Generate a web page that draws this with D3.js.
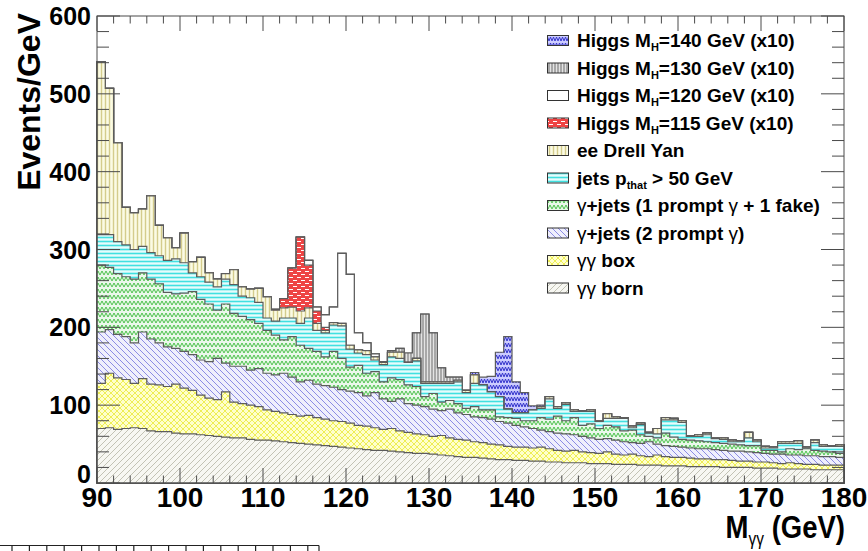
<!DOCTYPE html>
<html>
<head>
<meta charset="utf-8">
<script src="https://cdn.jsdelivr.net/npm/d3@7"></script>
<style>
  body { margin: 0; background: #fff; }
  svg { display: block; }
</style>
</head>
<body>
<svg id="chart" width="868" height="551"></svg>
<script>
// Diphoton invariant mass, stacked backgrounds plus Higgs signals (x10), 1 GeV bins from 90 to 180 GeV
const binLow = d3.range(90, 180);

const born = [70,71,69,70,71,70,67,66,66,64, 63,63,62,61,60,59,58,58,56,55,
  55,54,53,52,51,50,49,48,47,46, 45,44,43,42,42,41,40,39,38,38,
  37,36,35,34,33,33,32,31,30,30, 29,29,28,28,27,27,26,26,26,25,
  25,25,24,24,24,23,23,23,22,22, 22,21,21,21,21,20,20,20,20,19,
  19,19,18,18,18,18,17,17,17,17];
const box = [58,70,66,63,57,64,60,60,58,63, 59,56,51,48,47,58,46,44,44,43,
  39,38,37,36,35,37,35,34,33,33, 32,30,30,29,27,29,27,26,25,24,
  23,25,23,22,22,20,20,19,19,17, 17,17,17,18,17,15,15,16,14,14,
  13,15,13,12,13,12,11,13,12,11, 11,11,10,10,9,10,9,8,8,8,
  8,7,7,8,7,6,7,6,6,6];
const twoPrompt = [66,56,56,55,52,60,58,54,51,46, 47,46,45,47,53,37,46,48,45,49,
  47,47,51,48,44,45,43,43,43,41, 41,42,39,45,39,35,41,37,37,36,
  35,32,37,34,33,32,32,32,30,30, 28,26,25,22,22,22,22,20,20,19,
  18,17,18,17,15,16,19,14,14,14, 13,13,13,13,13,12,12,13,12,12,
  11,11,12,10,11,11,11,11,11,10];
const onePromptFake = [86,80,78,77,82,76,77,76,70,70, 75,81,78,74,62,76,68,64,65,58,
  55,51,43,52,47,41,42,37,46,40, 31,35,29,27,22,30,25,24,24,13,
  20,11,11,12,8,13,10,12,6,7, 9,8,10,16,16,22,17,22,14,18,
  14,17,17,14,16,11,7,8,16,12, 10,10,10,9,9,9,9,8,8,9,
  4,5,3,8,7,9,7,7,6,5];
const jets = [39,42,41,41,38,34,34,36,41,45, 39,24,29,28,30,32,37,26,28,27,
  16,18,28,24,28,39,27,31,34,42, 23,16,24,15,22,27,27,29,33,17,
  13,24,22,28,20,30,32,23,26,11, 7,10,14,12,26,10,21,8,18,16,
  9,9,11,16,3,13,4,5,17,22, 22,5,6,9,5,5,3,4,10,5,
  3,3,11,7,8,1,10,6,7,9];
const drellYan = [222,188,127,48,47,48,73,39,29,14, 38,14,25,12,10,7,19,12,11,18,
  27,14,13,14,16,13,9,3,3,3, 5,4,5,4,3,6,8,0,3,2,
  2,2,2,2,3,11,0,0,0,0, 0,0,0,2,3,2,2,2,1,2,
  1,6,2,1,2,2,1,7,3,2, 2,1,2,2,1,2,2,1,7,2,
  2,1,2,2,3,1,3,2,1,2];
const h115 = [0,0,0,0,0,0,0,0,0,0, 0,0,0,0,0,0,0,0,0,0,
  0,1,12,50,95,55,16,4,0,0, 0,0,0,0,0,0,0,0,0,0,
  0,0,0,0,0,0,0,0,0,0, 0,0,0,0,0,0,0,0,0,0,
  0,0,0,0,0,0,0,0,0,0, 0,0,0,0,0,0,0,0,0,0,
  0,0,0,0,0,0,0,0,0,0];
const h120 = [0,0,0,0,0,0,0,0,0,0, 0,0,0,0,0,0,0,0,0,0,
  0,0,0,0,0,6,5,16,20,90, 91,22,10,4,1,0,0,0,0,0,
  0,0,0,0,0,0,0,0,0,0, 0,0,0,0,0,0,0,0,0,0,
  0,0,0,0,0,0,0,0,0,0, 0,0,0,0,0,0,0,0,0,0,
  0,0,0,0,0,0,0,0,0,0];
const h130 = [0,0,0,0,0,0,0,0,0,0, 0,0,0,0,0,0,0,0,0,0,
  0,0,0,0,0,0,0,0,0,0, 0,0,0,0,0,2,5,12,33,87,
  63,18,6,4,0,0,0,0,0,0, 0,0,0,0,0,0,0,0,0,0,
  0,0,0,0,0,0,0,0,0,0, 0,0,0,0,0,0,0,0,0,0,
  0,0,0,0,0,0,0,0,0,0];
const h140 = [0,0,0,0,0,0,0,0,0,0, 0,0,0,0,0,0,0,0,0,0,
  0,0,0,0,0,0,0,0,0,0, 0,0,0,0,0,0,0,0,0,0,
  0,0,0,0,0,3,10,20,57,93, 40,26,5,2,0,0,0,0,0,0,
  0,0,0,0,0,0,0,0,0,0, 0,0,0,0,0,0,0,0,0,0,
  0,0,0,0,0,0,0,0,0,0];

const xTicks = [90,100,110,120,130,140,150,160,170,180];
const yTicks = [0,100,200,300,400,500,600];

// stack order, bottom to top
const layers = [
  {key: "born", values: born, fill: "p-born"},
  {key: "box", values: box, fill: "p-box"},
  {key: "twoPrompt", values: twoPrompt, fill: "p-two"},
  {key: "onePromptFake", values: onePromptFake, fill: "p-one"},
  {key: "jets", values: jets, fill: "p-jets"},
  {key: "drellYan", values: drellYan, fill: "p-dy"},
  {key: "h115", values: h115, fill: "p-h115"},
  {key: "h120", values: h120, fill: "p-h120"},
  {key: "h130", values: h130, fill: "p-h130"},
  {key: "h140", values: h140, fill: "p-h140"}
];

// legend, top to bottom
const legendItems = [
  {fill: "p-h140", parts: [["Higgs M"], ["H", "sub"], ["=140 GeV (x10)"]]},
  {fill: "p-h130", parts: [["Higgs M"], ["H", "sub"], ["=130 GeV (x10)"]]},
  {fill: "p-h120", parts: [["Higgs M"], ["H", "sub"], ["=120 GeV (x10)"]]},
  {fill: "p-h115", parts: [["Higgs M"], ["H", "sub"], ["=115 GeV (x10)"]]},
  {fill: "p-dy", parts: [["ee Drell Yan"]]},
  {fill: "p-jets", parts: [["jets p"], ["that", "sub"], [" > 50 GeV"]]},
  {fill: "p-one", parts: [["γ", "greek"], ["+jets (1 prompt "], ["γ", "greek"], [" + 1 fake)"]]},
  {fill: "p-two", parts: [["γ", "greek"], ["+jets (2 prompt "], ["γ", "greek"], [")"]]},
  {fill: "p-box", parts: [["γγ", "greek"], [" box"]]},
  {fill: "p-born", parts: [["γγ", "greek"], [" born"]]}
];

const svg = d3.select("#chart");
const FONT = "'Liberation Sans', Arial, Helvetica, sans-serif";

const x = d3.scaleLinear().domain([90, 180]).range([97, 844]);
const y = d3.scaleLinear().domain([0, 600]).range([483, 16]);

// ---- fill patterns ----
const defs = svg.append("defs");
function pattern(id, w, h, bg, draw) {
  const p = defs.append("pattern").attr("id", id)
    .attr("patternUnits", "userSpaceOnUse").attr("width", w).attr("height", h);
  p.append("rect").attr("width", w).attr("height", h).attr("fill", bg);
  draw(p);
}
pattern("p-born", 6, 6, "#f7f7f2", p => p.append("path")
  .attr("d", "M-1,1L1,-1M0,6L6,0M5,7L7,5").attr("stroke", "#c2c2b4").attr("stroke-width", 1));
pattern("p-box", 6, 6, "#ffffcc", p => p.append("path")
  .attr("d", "M0,6L6,0M0,0L6,6").attr("stroke", "#eeee55").attr("stroke-width", 1));
pattern("p-two", 6, 6, "#efeffc", p => p.append("path")
  .attr("d", "M0,0L6,6M-1,5L1,7M5,-1L7,1").attr("stroke", "#8c8ce4").attr("stroke-width", 1));
pattern("p-one", 8, 6, "#eaf8ea", p => p.append("path")
  .attr("d", "M0,5L2,1L4,5L6,1L8,5").attr("fill", "none").attr("stroke", "#4cc24c").attr("stroke-width", 1));
pattern("p-jets", 4, 4, "#e6fcfc", p => p.append("path")
  .attr("d", "M0,1.5H4").attr("stroke", "#40e0e0").attr("stroke-width", 1.6));
pattern("p-dy", 4, 4, "#fbfbe4", p => p.append("path")
  .attr("d", "M1.5,0V4").attr("stroke", "#d4cc8c").attr("stroke-width", 1.4));
pattern("p-h115", 8, 6, "#ee4444", p => p.append("path")
  .attr("d", "M1,1.5H5M5,4.5H9M-3,4.5H1").attr("stroke", "#fff").attr("stroke-width", 1));
pattern("p-h120", 4, 4, "#ffffff", p => {});
pattern("p-h130", 3, 3, "#a8a8a8", p => p.append("path")
  .attr("d", "M1.5,0V3").attr("stroke", "#e4e4e4").attr("stroke-width", 1));
pattern("p-h140", 6, 6, "#ccccff", p => p.append("path")
  .attr("d", "M0,5L1.5,1L3,5L4.5,1L6,5").attr("fill", "none").attr("stroke", "#3434cc").attr("stroke-width", 1));

// ---- stacked histograms ----
const rows = binLow.map((b, i) => {
  const r = {bin: b};
  layers.forEach(l => r[l.key] = l.values[i]);
  return r;
});
const stacked = d3.stack().keys(layers.map(l => l.key))(rows);

const area = d3.area()
  .curve(d3.curveStepAfter)
  .x(d => x(d.bin))
  .y0(y(0))
  .y1(d => y(d.top));

const plot = svg.append("g");
// ROOT-style stack: each cumulative sum is drawn from the baseline, largest first
for (let k = stacked.length - 1; k >= 0; k--) {
  const s = stacked[k];
  const pts = s.map((d, i) => ({bin: binLow[i], top: d[1]}));
  pts.push({bin: 180, top: s[s.length - 1][1]});
  plot.append("path")
    .attr("d", area(pts))
    .attr("fill", `url(#${layers[k].fill})`)
    .attr("stroke", "#5c5c5c")
    .attr("stroke-width", 1.2);
}

// ---- frame and ticks ----
const axisCol = "#4a4a4a";
svg.append("rect").attr("x", x(90)).attr("y", y(600))
  .attr("width", x(180) - x(90)).attr("height", y(0) - y(600))
  .attr("fill", "none").attr("stroke", axisCol).attr("stroke-width", 1);

const ticks = svg.append("g").attr("stroke", axisCol).attr("stroke-width", 1);
d3.range(90, 181, 2).forEach(v => {
  const len = v % 10 === 0 ? 15 : 7.5;
  ticks.append("line").attr("x1", x(v)).attr("x2", x(v)).attr("y1", y(0)).attr("y2", y(0) - len);
  ticks.append("line").attr("x1", x(v)).attr("x2", x(v)).attr("y1", y(600)).attr("y2", y(600) + len);
});
d3.range(0, 601, 20).forEach(v => {
  const len = v % 100 === 0 ? 23 : 12;
  ticks.append("line").attr("x1", x(90)).attr("x2", x(90) + len).attr("y1", y(v)).attr("y2", y(v));
  ticks.append("line").attr("x1", x(180)).attr("x2", x(180) - len).attr("y1", y(v)).attr("y2", y(v));
});

// tick labels (the zero label sits a little high so it clears the "90" below it)
svg.append("g").selectAll("text").data(yTicks).join("text")
  .attr("x", 91).attr("y", d => d === 0 ? y(d) - 9 : y(d)).attr("dy", "0.36em")
  .attr("text-anchor", "end")
  .attr("font-family", FONT).attr("font-weight", "bold").attr("font-size", 25)
  .text(d => d);
svg.append("g").selectAll("text").data(xTicks).join("text")
  .attr("x", d => x(d)).attr("y", 507)
  .attr("text-anchor", "middle")
  .attr("font-family", FONT).attr("font-weight", "bold").attr("font-size", 28)
  .text(d => d);

// axis titles
svg.append("text")
  .attr("transform", "translate(40,13) rotate(-90)")
  .attr("text-anchor", "end")
  .attr("font-family", FONT).attr("font-weight", "bold").attr("font-size", 32)
  .text("Events/GeV");

const xt = svg.append("text")
  .attr("transform", "translate(845,538) scale(0.86,1)")
  .attr("text-anchor", "end")
  .attr("font-family", FONT).attr("font-weight", "bold").attr("font-size", 32);
xt.append("tspan").text("M");
xt.append("tspan").attr("font-size", 18).attr("font-weight", "normal").attr("dy", 7).text("γγ");
xt.append("tspan").attr("dy", -7).text(" (GeV)");

// ---- legend ----
const lg = svg.append("g");
legendItems.forEach((it, i) => {
  const cy = 40.5 + i * 27.5;
  lg.append("rect").attr("x", 547.5).attr("y", cy - 5).attr("width", 21).attr("height", 10)
    .attr("fill", `url(#${it.fill})`).attr("stroke", "#333").attr("stroke-width", 1);
  const t = lg.append("text").attr("x", 577).attr("y", cy + 6.5)
    .attr("font-family", FONT).attr("font-weight", "bold").attr("font-size", 19);
  let shift = 0;
  it.parts.forEach(([s, kind]) => {
    const ts = t.append("tspan").text(s);
    if (kind === "sub") {
      ts.attr("font-size", 11).attr("dy", 4 - shift); shift = 4;
    } else {
      if (shift) { ts.attr("dy", -shift); shift = 0; }
      if (kind === "greek") ts.attr("font-weight", "normal");
    }
  });
});

// neighbouring panel edge at the lower left
const nb = svg.append("g").attr("stroke", "#222").attr("stroke-width", 1.2);
nb.append("line").attr("x1", 0).attr("x2", 319).attr("y1", 545.5).attr("y2", 545.5);
nb.append("line").attr("x1", 319).attr("x2", 319).attr("y1", 545.5).attr("y2", 551);
d3.range(12, 319, 17.4).forEach(v => {
  nb.append("line").attr("x1", v).attr("x2", v).attr("y1", 545.5).attr("y2", 551);
});
</script>
</body>
</html>
